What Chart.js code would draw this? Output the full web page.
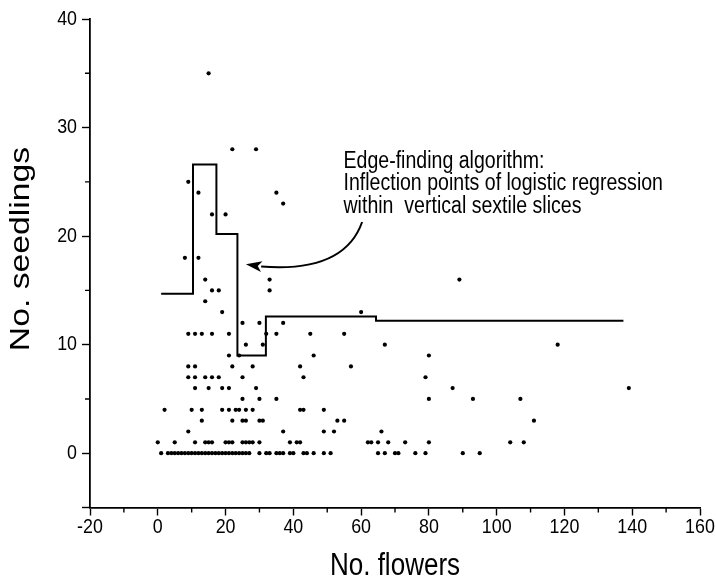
<!DOCTYPE html>
<html>
<head>
<meta charset="utf-8">
<script src="https://cdn.jsdelivr.net/npm/chart.js@4.4.1/dist/chart.umd.min.js"></script>
<style>
html,body{margin:0;padding:0;background:#fff;}
#wrap{position:relative;width:716px;height:580px;}
</style>
</head>
<body>
<div id="wrap"><canvas id="c" width="716" height="580"></canvas></div>
<script>
// ---- data ----
const flowers = [
  // 0 seedlings
  1,3,4,5,6,7,8,9,10,11,12,13,14,15,16,17,18,19,20,21,22,23,24,25,26,27,30,32,33,35,36,37,39,40,43,44,46,49,51,65,67,70,71,76,79,90,95,
  // 1
  0,5,11,14,15,16,20,21,22,25,26,27,28,30,39,41,42,62,63,65,68,73,80,104,108,
  // 2
  9,37,49,52,66,
  // 3
  13,22,25,26,30,31,53,55,111,
  // 4
  2,10,13,19,21,23,24,26,28,42,43,49,
  // 5
  25,30,35,80,93,107,
  // 6
  11,15,19,21,29,87,139,
  // 7
  9,11,14,16,18,25,43,79,
  // 8
  9,11,22,28,42,57,
  // 9
  21,24,46,80,
  // 10
  26,31,67,118,
  // 11
  9,11,13,16,21,32,35,45,55,
  // 12
  25,30,37,
  // 13
  19,60,
  // 14
  14,
  // 15
  16,18,33,
  // 16
  14,33,89,
  // 18
  8,12,
  // 22
  16,20,
  // 23
  37,
  // 24
  12,35,
  // 25
  9,
  // 28
  22,29,
  // 35
  15
];
const seedlings = [
  0,0,0,0,0,0,0,0,0,0,0,0,0,0,0,0,0,0,0,0,0,0,0,0,0,0,0,0,0,0,0,0,0,0,0,0,0,0,0,0,0,0,0,0,0,0,0,
  1,1,1,1,1,1,1,1,1,1,1,1,1,1,1,1,1,1,1,1,1,1,1,1,1,
  2,2,2,2,2,
  3,3,3,3,3,3,3,3,3,
  4,4,4,4,4,4,4,4,4,4,4,4,
  5,5,5,5,5,5,
  6,6,6,6,6,6,6,
  7,7,7,7,7,7,7,7,
  8,8,8,8,8,8,
  9,9,9,9,
  10,10,10,10,
  11,11,11,11,11,11,11,11,11,
  12,12,12,
  13,13,
  14,
  15,15,15,
  16,16,16,
  18,18,
  22,22,
  23,
  24,24,
  25,
  28,28,
  35
];
// edge-finding step line (start of each slice, value held until next point)
const stepFlowers   = [1, 10.4, 17.3, 23.5, 31.9, 64.4, 137.4];
const stepSeedlings = [14.7, 26.6, 20.2, 9.0, 12.6, 12.2, 12.2];
// tick labels
const xTickLabels = [-20, 0, 20, 40, 60, 80, 100, 120, 140, 160];
const yTickLabels = [0, 10, 20, 30, 40];
// annotation
const noteLines = ['Edge-finding algorithm:', 'Inflection points of logistic regression', 'within  vertical sextile slices'];
const noteX = 54.8;
const noteY = [26.9, 24.8, 22.7];
// arrow (data units): start, control, end of curve, tip
const arrowX = [60.3, 55.0, 30.5, 26.0];
const arrowY = [21.3, 16.6, 17.2, 17.4];

const xTitle = 'No. flowers';
const yTitle = 'No. seedlings';

// ---- build ----
const points = flowers.map((f, i) => ({x: f, y: seedlings[i]}));
const stepPts = stepFlowers.map((f, i) => ({x: f, y: stepSeedlings[i]}));

const FONT = '"Liberation Sans", Arial, Helvetica, sans-serif';
Chart.defaults.font.family = FONT;
Chart.defaults.color = '#000';

// text drawn with a horizontal compression (the reference type is tall and narrow)
function stretchedText(ctx, text, px, py, align, sx, sy, rot) {
  ctx.save();
  ctx.translate(px, py);
  if (rot) ctx.rotate(rot);
  ctx.scale(sx, sy);
  ctx.textAlign = align;
  ctx.textBaseline = 'middle';
  ctx.fillText(text, 0, 0);
  ctx.restore();
}

const extras = {
  id: 'extras',
  afterDraw(chart) {
    const {ctx, scales: {x, y}} = chart;
    ctx.save();
    ctx.strokeStyle = '#000';
    ctx.fillStyle = '#000';
    // minor ticks
    ctx.lineWidth = 1.4;
    ctx.beginPath();
    for (let v = -10; v <= 150; v += 20) {
      const px = x.getPixelForValue(v);
      ctx.moveTo(px, x.top); ctx.lineTo(px, x.top + 5);
    }
    for (let v = 5; v <= 35; v += 10) {
      const py = y.getPixelForValue(v);
      ctx.moveTo(y.right, py); ctx.lineTo(y.right - 5, py);
    }
    ctx.stroke();

    // tick labels
    ctx.font = '21px ' + FONT;
    xTickLabels.forEach(v => stretchedText(ctx, String(v), x.getPixelForValue(v), x.top + 20, 'center', 0.85, 1));
    yTickLabels.forEach(v => stretchedText(ctx, String(v), y.right - 13, y.getPixelForValue(v), 'right', 0.85, 1));

    // annotation text
    ctx.font = '23px ' + FONT;
    noteLines.forEach((t, i) => stretchedText(ctx, t, x.getPixelForValue(noteX), y.getPixelForValue(noteY[i]), 'left', 0.85, 1));

    // curved arrow
    const P = arrowX.map((v, i) => [x.getPixelForValue(v), y.getPixelForValue(arrowY[i])]);
    ctx.lineWidth = 2;
    ctx.beginPath();
    ctx.moveTo(P[0][0], P[0][1]);
    ctx.quadraticCurveTo(P[1][0], P[1][1], P[2][0], P[2][1]);
    ctx.stroke();
    const ang = Math.atan2(P[3][1] - P[2][1], P[3][0] - P[2][0]);
    const len = 16, half = 5.5;
    const bx = P[3][0] - len * Math.cos(ang), by = P[3][1] - len * Math.sin(ang);
    ctx.beginPath();
    ctx.moveTo(P[3][0], P[3][1]);
    ctx.lineTo(bx + half * Math.sin(ang), by - half * Math.cos(ang));
    ctx.lineTo(bx + 4 * Math.cos(ang), by + 4 * Math.sin(ang));
    ctx.lineTo(bx - half * Math.sin(ang), by + half * Math.cos(ang));
    ctx.closePath();
    ctx.fill();

    // axis titles
    ctx.font = '31px ' + FONT;
    stretchedText(ctx, xTitle, (x.left + x.right) / 2, 566, 'center', 0.84, 1);
    ctx.font = '27px ' + FONT;
    stretchedText(ctx, yTitle, 22, 249, 'center', 1.25, 1, -Math.PI / 2);
    ctx.restore();
  }
};

new Chart(document.getElementById('c'), {
  type: 'scatter',
  data: {
    datasets: [
      {
        label: 'plants',
        data: points,
        pointRadius: 2.1,
        pointHoverRadius: 2.1,
        pointBackgroundColor: '#000',
        pointBorderWidth: 0,
        showLine: false
      },
      {
        label: 'edge',
        data: stepPts,
        showLine: true,
        stepped: 'before',
        borderColor: '#000',
        borderWidth: 2,
        pointRadius: 0,
        fill: false
      }
    ]
  },
  options: {
    responsive: false,
    animation: false,
    events: [],
    layout: {padding: {top: 19, right: 16, left: 0, bottom: 0}},
    plugins: {legend: {display: false}, tooltip: {enabled: false}},
    scales: {
      x: {
        type: 'linear',
        min: -20, max: 160,
        afterFit: s => { s.height = 72.5; },
        border: {display: true, color: '#000', width: 1.8},
        grid: {
          drawOnChartArea: false,
          drawTicks: true,
          tickLength: 8,
          tickWidth: 1.4,
          tickColor: c => (xTickLabels.includes(c.tick.value) ? '#000' : 'rgba(0,0,0,0)')
        },
        ticks: {
          display: false,
          stepSize: 10,
          autoSkip: false,
          maxRotation: 0
        }
      },
      y: {
        type: 'linear',
        min: -5, max: 40,
        afterFit: s => { s.width = 90; },
        border: {display: true, color: '#000', width: 1.8},
        grid: {
          drawOnChartArea: false,
          drawTicks: true,
          tickLength: 8,
          tickWidth: 1.4,
          tickColor: c => ((yTickLabels.includes(c.tick.value) || c.tick.value === -5) ? '#000' : 'rgba(0,0,0,0)')
        },
        ticks: {
          display: false,
          stepSize: 5,
          autoSkip: false
        }
      }
    }
  },
  plugins: [extras]
});
</script>
</body>
</html>
